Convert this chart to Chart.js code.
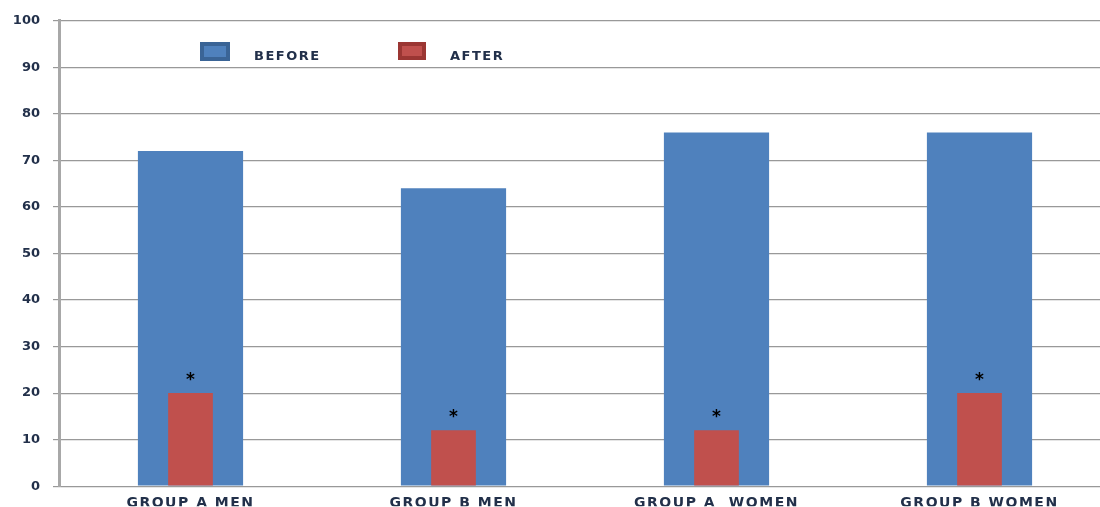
<!DOCTYPE html>
<html>
<head>
<meta charset="utf-8">
<script src="https://cdn.jsdelivr.net/npm/chart.js@4.4.0/dist/chart.umd.min.js"></script>
<style>
  html, body { margin: 0; padding: 0; background: #fff; overflow: hidden; }
  #wrap { width: 1112px; height: 507px; }
</style>
</head>
<body>
<div id="wrap"><canvas id="chart" width="1112" height="507"></canvas></div>
<script>
// data
var groups = ['GROUP A MEN', 'GROUP B MEN', 'GROUP A  WOMEN', 'GROUP B WOMEN'];
var before = [72, 64, 76, 76];
var after = [20, 12, 12, 20];
var marks = ['*', '*', '*', '*'];   // significance marks over the AFTER bars
var yTicks = [0, 10, 20, 30, 40, 50, 60, 70, 80, 90, 100];

var blue = '#4f81bd';
var red = '#c0504d';
var textCol = '#22304a';

// legend drawn inside the plot, like the original
var legendPlugin = {
    id: 'boxLegend',
    afterDraw: function (chart) {
        var ctx = chart.ctx;
        var items = [
            { ds: 0, box: [200, 42, 30, 19], text: [254, 57] },
            { ds: 1, box: [398, 42, 28, 18], text: [450, 57] }
        ];
        ctx.save();
        items.forEach(function (it) {
            var ds = chart.data.datasets[it.ds];
            var b = it.box;
            ctx.fillStyle = ds.borderColorDark;
            ctx.fillRect(b[0], b[1], b[2], b[3]);
            ctx.fillStyle = ds.backgroundColor;
            ctx.fillRect(b[0] + 4, b[1] + 4, b[2] - 8, b[3] - 8);
            ctx.fillStyle = textCol;
            ctx.font = 'bold 13px "DejaVu Sans"';
            ctx.letterSpacing = '1.5px';
            ctx.textBaseline = 'middle';
            ctx.fillText(ds.label, it.text[0], it.text[1]);
        });
        ctx.restore();
    }
};

// asterisks above the AFTER bars
var markPlugin = {
    id: 'marks',
    afterDatasetsDraw: function (chart) {
        var ctx = chart.ctx;
        var meta = chart.getDatasetMeta(1);
        ctx.save();
        ctx.letterSpacing = '0px';
        ctx.fillStyle = '#000';
        ctx.font = 'bold 17px "DejaVu Sans"';
        ctx.textAlign = 'center';
        ctx.textBaseline = 'middle';
        meta.data.forEach(function (bar, i) {
            ctx.fillText(marks[i], bar.x, bar.y - 13);
        });
        ctx.restore();
    }
};

// y labels tight, x labels (drawn on a later layer) a bit wider
var spacingPlugin = {
    id: 'spacing',
    beforeDraw: function (chart) {
        chart.ctx.letterSpacing = '0px';
    },
    afterDatasetsDraw: function (chart) {
        chart.ctx.letterSpacing = '1.5px';
    }
};

var chart = new Chart(document.getElementById('chart'), {
    type: 'bar',
    data: {
        labels: groups,
        datasets: [{
            label: 'BEFORE',
            data: before,
            backgroundColor: blue,
            borderColorDark: '#3a6496',
            barPercentage: 0.40,
            categoryPercentage: 1,
            order: 1
        }, {
            label: 'AFTER',
            data: after,
            backgroundColor: red,
            borderColorDark: '#9b3633',
            barPercentage: 0.17,
            categoryPercentage: 1,
            order: 0
        }]
    },
    options: {
        responsive: false,
        animation: false,
        layout: { padding: { top: 18, right: 1, left: 0, bottom: 0 } },
        plugins: {
            legend: { display: false },
            tooltip: { enabled: false }
        },
        scales: {
            x: {
                stacked: true,
                grid: { display: false },
                border: { display: false },
                ticks: {
                    z: 1,
                    color: textCol,
                    font: { family: 'DejaVu Sans', weight: 'bold', size: 14 },
                    padding: 1,
                    maxRotation: 0,
                    autoSkip: false
                },
                afterFit: function (scale) { scale.height = 20; }
            },
            y: {
                stacked: false,
                min: 0,
                max: 100,
                afterBuildTicks: function (scale) {
                    scale.ticks = yTicks.map(function (v) { return { value: v }; });
                },
                grid: {
                    color: '#999999',
                    lineWidth: 1.2,
                    tickLength: 6,
                    drawTicks: true
                },
                border: { color: '#a8a8a8', width: 3 },
                ticks: {
                    color: textCol,
                    font: { family: 'DejaVu Sans', weight: 'bold', size: 13 },
                    padding: 13
                },
                afterFit: function (scale) { scale.width = 59; }
            }
        }
    },
    plugins: [spacingPlugin, markPlugin, legendPlugin]
});
</script>
</body>
</html>
